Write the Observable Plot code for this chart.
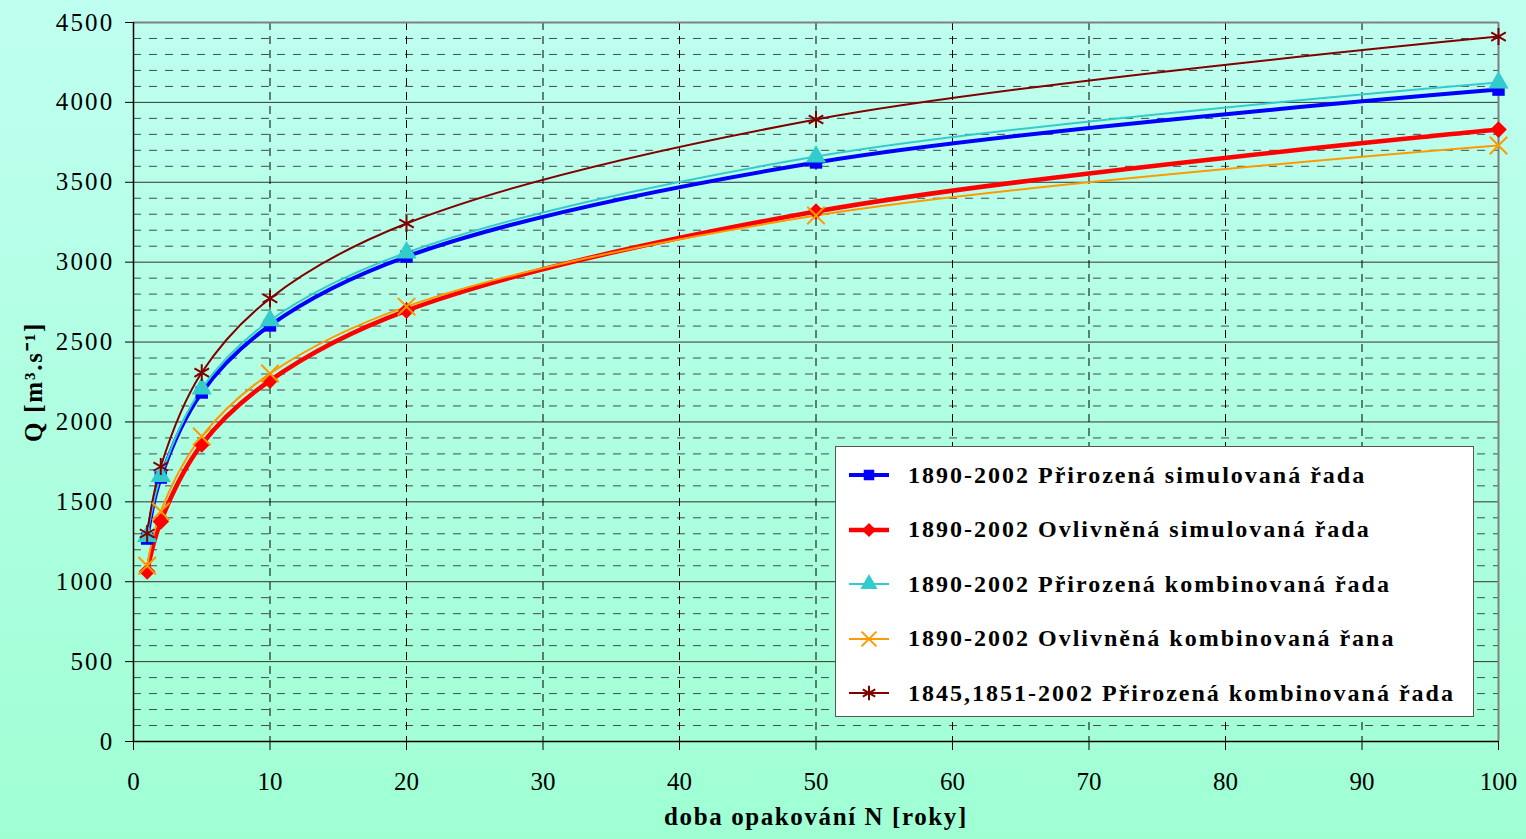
<!DOCTYPE html>
<html>
<head>
<meta charset="utf-8">
<script src="https://cdn.jsdelivr.net/npm/d3@7"></script>
<script src="https://cdn.jsdelivr.net/npm/@observablehq/plot@0.6"></script>
<style>
  html, body { margin: 0; padding: 0; }
  body {
    width: 1526px; height: 839px; overflow: hidden;
    background: linear-gradient(to bottom, #bffff0 0%, #9fffd3 100%);
    font-family: "Liberation Serif", "Times New Roman", serif;
  }
  #wrap { position: relative; width: 1526px; height: 839px; }
  #wrap svg text { font-family: "Liberation Serif", "Times New Roman", serif; }
  #legend {
    position: absolute; left: 835px; top: 446px; width: 639px; height: 271px;
    background: #fff; border: 1px solid #555; box-sizing: border-box;
  }
  .item { position: absolute; left: 12px; height: 30px; display: flex; align-items: center; }
  .item span { font-weight: bold; font-size: 24px; letter-spacing: 2px; margin-left: 18px; color: #000; white-space: nowrap; }
</style>
</head>
<body>
<div id="wrap"></div>
<script>
const N = [1, 2, 5, 10, 20, 50, 100];
const prirozenaSim = [1270, 1652, 2184, 2604, 3035, 3624, 4080];
const ovlivnenaSim = [1064, 1377, 1859, 2259, 2697, 3317, 3830];
const prirozenaKomb = [1285, 1660, 2209, 2635, 3060, 3661, 4124];
const ovlivnenaKomb = [1100, 1440, 1909, 2303, 2722, 3292, 3730];
const prirozenaKomb1845 = [1302, 1721, 2309, 2773, 3242, 3893, 4412];

const seriesNames = [
  "1890-2002 Přirozená simulovaná řada",
  "1890-2002 Ovlivněná simulovaná řada",
  "1890-2002 Přirozená kombinovaná řada",
  "1890-2002 Ovlivněná kombinovaná řana",
  "1845,1851-2002 Přirozená kombinovaná řada"
];
const seriesValues = [prirozenaSim, ovlivnenaSim, prirozenaKomb, ovlivnenaKomb, prirozenaKomb1845];
const seriesColors = ["#0000ff", "#ff0000", "#33cccc", "#ff9900", "#800000"];
const seriesWidths = [4, 4.5, 2, 2, 2];
const seriesSymbols = ["square", "diamond2", "triangle", "times", "asterisk"];
const seriesSymbolFilled = [true, true, true, false, false];
const seriesSymbolR = [7, 7.5, 7.5, 8, 8];

const xTicks = d3.range(0, 101, 10);
const yTicks = d3.range(0, 4501, 500);
const yMinor = d3.range(100, 4500, 100).filter(v => v % 500 !== 0);

const xLabel = "doba opakování N [roky]";
const yLabel = "Q [m³.s⁻¹]";
const FONT = "'Liberation Serif', 'Times New Roman', serif";

const marks = [
  Plot.ruleY(yMinor, {stroke: "#3f4f4a", strokeWidth: 1, strokeDasharray: "8,8"}),
  Plot.ruleY(yTicks.filter(v => v > 0 && v < 4500), {stroke: "#333", strokeWidth: 1}),
  Plot.ruleX(xTicks.filter(v => v > 0 && v < 100), {stroke: "#000", strokeWidth: 1, strokeDasharray: "8,6"}),
  Plot.ruleY([4500], {stroke: "#808080", strokeWidth: 2}),
  Plot.ruleX([100], {stroke: "#808080", strokeWidth: 2}),
  Plot.ruleX([0], {stroke: "#000", strokeWidth: 1.5}),
  Plot.ruleY([0], {stroke: "#000", strokeWidth: 1.5}),
  Plot.axisY({ticks: yTicks, tickSize: 8, tickPadding: 11, fontSize: 25, fontFamily: FONT, label: null, tickFormat: d => String(d)}),
  Plot.axisX({ticks: xTicks, tickSize: 9, tickPadding: 22, fontSize: 25, fontFamily: FONT, label: null, tickFormat: d => String(d)}),
  Plot.text([yLabel], {frameAnchor: "left", textAnchor: "middle", dx: -100, rotate: -90, fontSize: 25, fontFamily: FONT, fontWeight: "bold", text: d => d}),
  Plot.text([xLabel], {frameAnchor: "bottom", textAnchor: "middle", dy: 83, fontSize: 25, fontFamily: FONT, fontWeight: "bold", text: d => d})
];

seriesValues.forEach((vals, i) => {
  const data = N.map((n, j) => ({n, q: vals[j]}));
  marks.push(Plot.line(data, {x: "n", y: "q", curve: "catmull-rom", stroke: seriesColors[i], strokeWidth: seriesWidths[i]}));
});
seriesValues.forEach((vals, i) => {
  const data = N.map((n, j) => ({n, q: vals[j]}));
  marks.push(Plot.dot(data, {
    x: "n", y: "q", symbol: () => seriesSymbols[i],
    r: seriesSymbolR[i],
    fill: seriesSymbolFilled[i] ? seriesColors[i] : "none",
    stroke: seriesColors[i], strokeWidth: seriesSymbolFilled[i] ? 0 : 2
  }));
});

const chart = Plot.plot({
  width: 1526, height: 839,
  marginLeft: 133, marginRight: 28, marginTop: 22, marginBottom: 98,
  x: {domain: [0, 100]},
  y: {domain: [0, 4500]},
  symbol: {type: "identity"},
  style: {background: "transparent", fontFamily: FONT, color: "#000"},
  marks
});
const wrap = document.getElementById("wrap");
wrap.appendChild(chart);

// letter spacing tweaks (Plot text has no letterSpacing option)
const svgSel = d3.select(chart);
svgSel.selectAll('g[aria-label="y-axis tick label"] text').style("letter-spacing", "2.2px");
svgSel.selectAll("text").filter(function () { return this.textContent === xLabel; }).style("letter-spacing", "1.6px");
svgSel.selectAll("text").filter(function () { return this.textContent === yLabel; }).style("letter-spacing", "1.8px");

// Legend
const legend = document.createElement("div");
legend.id = "legend";
const symMap = {square: d3.symbolSquare, diamond2: d3.symbolDiamond2, triangle: d3.symbolTriangle, times: d3.symbolTimes, asterisk: d3.symbolAsterisk};
seriesNames.forEach((name, i) => {
  const item = document.createElement("div");
  item.className = "item";
  item.style.top = (13 + i * 54.5) + "px";
  const svg = d3.create("svg").attr("width", 42).attr("height", 30);
  svg.append("line").attr("x1", 1).attr("x2", 41).attr("y1", 15).attr("y2", 15)
    .attr("stroke", seriesColors[i]).attr("stroke-width", seriesWidths[i]);
  const r = seriesSymbolR[i] * 0.85;
  const path = d3.symbol(symMap[seriesSymbols[i]], Math.PI * r * r)();
  svg.append("path").attr("d", path).attr("transform", "translate(21,15)")
    .attr("fill", seriesSymbolFilled[i] ? seriesColors[i] : "none")
    .attr("stroke", seriesColors[i]).attr("stroke-width", seriesSymbolFilled[i] ? 0 : 2);
  item.appendChild(svg.node());
  const span = document.createElement("span");
  span.textContent = name;
  item.appendChild(span);
  legend.appendChild(item);
});
wrap.appendChild(legend);
</script>
</body>
</html>
